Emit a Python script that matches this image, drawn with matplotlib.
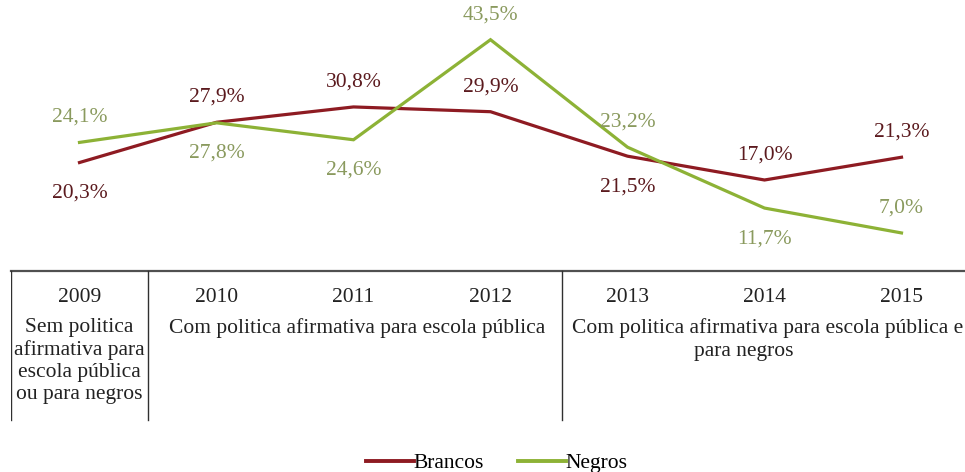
import matplotlib
matplotlib.use("Agg")
import matplotlib.pyplot as plt
from matplotlib.lines import Line2D

plt.rcParams["font.family"] = ["Liberation Serif", "DejaVu Serif"]

# ── Data ──────────────────────────────────────────────────────────────────────
years = ["2009", "2010", "2011", "2012", "2013", "2014", "2015"]
brancos = [20.3, 27.9, 30.8, 29.9, 21.5, 17.0, 21.3]
negros = [24.1, 27.8, 24.6, 43.5, 23.2, 11.7, 7.0]

# label placement per point: +1 above, -1 below
brancos_side = [-1, 1, 1, 1, -1, 1, 1]
negros_side = [1, -1, -1, 1, 1, -1, 1]

policy_2009 = "Sem politica\nafirmativa para\nescola pública\nou para negros"
policy_2010_12 = "Com politica afirmativa para escola pública"
policy_2013_15 = ["Com politica afirmativa para escola pública e", "para negros"]

C_BR = "#8E1B22"
C_NE = "#8DB236"
C_BR_TXT = "#5B1A1E"
C_NE_TXT = "#8A9A5E"
FS = 15.5

W, H = 965, 472
fig = plt.figure(figsize=(W / 100, H / 100), dpi=100)

left = 11 / W
ax = fig.add_axes([left, 1 - 270 / H, 1 - left, 270 / H])
x = list(range(len(years)))
ax.plot(x, brancos, color=C_BR, lw=2.3, solid_joinstyle="miter")
ax.plot(x, negros, color=C_NE, lw=2.3, solid_joinstyle="miter")

xmax = -0.5 + (W - 11) / 137
ax.set_xlim(-0.5, xmax)
ax.set_ylim(0, 51)
ax.axis("off")

def lab(v):
    return f"{v:.1f}%".replace(".", ",")

for xi, v, s in zip(x, brancos, brancos_side):
    ax.annotate(lab(v), (xi, v), xytext=(0, 18 if s > 0 else -22),
                textcoords="offset points", ha="center", va="center",
                fontsize=FS, color=C_BR_TXT)
for xi, v, s in zip(x, negros, negros_side):
    ax.annotate(lab(v), (xi, v), xytext=(0, 18 if s > 0 else -22),
                textcoords="offset points", ha="center", va="center",
                fontsize=FS, color=C_NE_TXT)

# ── Table below (y in pixel units, top=270) ─────────────────────────────────
tab = fig.add_axes([left, 0, 1 - left, 202 / H])
tab.set_xlim(-0.5, xmax)
tab.set_ylim(H, 270)
tab.axis("off")

tab.plot([-0.5, xmax], [271, 271], color="#505050", lw=1.6, clip_on=False)
for xv in [-0.5, 0.5, 3.52]:
    tab.plot([xv, xv], [271, 420], color="#303030", lw=1.0)

for xi, yr in zip(x, years):
    tab.text(xi, 297, yr, ha="center", va="center", fontsize=FS, color="#222222")

tab.text(0, 318, policy_2009, ha="center", va="top", fontsize=FS,
         color="#222222", linespacing=1.22)
tab.text(2.03, 328, policy_2010_12, ha="center", va="center", fontsize=FS, color="#222222")
tab.text(5.02, 328, policy_2013_15[0], ha="center", va="center", fontsize=FS, color="#222222")
tab.text(4.85, 351, policy_2013_15[1], ha="center", va="center", fontsize=FS, color="#222222")

handles = [Line2D([], [], color=C_BR, lw=2.8), Line2D([], [], color=C_NE, lw=2.8)]
fig.legend(handles, ["Brancos", "Negros"], loc="center", bbox_to_anchor=(497 / W, 1 - 463 / H),
           ncol=2, frameon=False, fontsize=FS, handlelength=2.2, handletextpad=0.0,
           columnspacing=1.6)

fig.savefig("out.png", dpi=100, facecolor="white")
